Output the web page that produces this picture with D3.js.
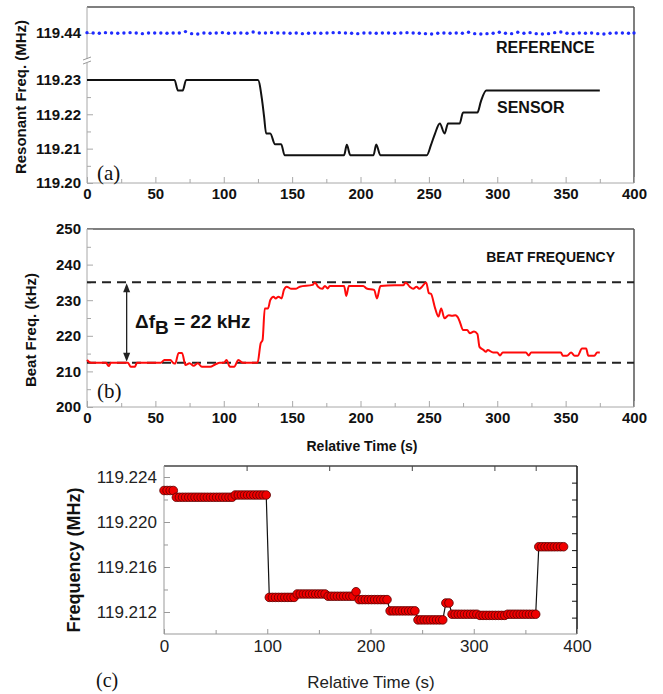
<!DOCTYPE html>
<meta charset="utf-8">
<style>
body { margin: 0; background: #fff; }
text { font-family: Arial, "Liberation Sans", sans-serif; }
.serif { font-family: "Times New Roman", "Liberation Serif", serif; }
</style>
<body>
<script src="https://d3js.org/d3.v7.min.js"></script>
<script>

// ---- data ----
var timeTicks = [0, 50, 100, 150, 200, 250, 300, 350, 400];
var timeTicksC = [0, 100, 200, 300, 400];

// (a) reference resonator (blue dots) and sensor (black line)
var refT = [0,4.5,9,13.5,18,22.5,27,31.5,36,40.5,45,49.5,54,58.5,63,67.5,72,76.5,81,85.5,90,94.5,99,103.5,108,112.5,117,121.5,126,130.5,135,139.5,144,148.5,153,157.5,162,166.5,171,175.5,180,184.5,189,193.5,198,202.5,207,211.5,216,220.5,225,229.5,234,238.5,243,247.5,252,256.5,261,265.5,270,274.5,279,283.5,288,292.5,297,301.5,306,310.5,315,319.5,324,328.5,333,337.5,342,346.5,351,355.5,360,364.5,369,373.5,378,382.5,387,391.5,396,400];
var refF = [119.4401,119.4400,119.4399,119.4401,119.4400,119.4399,119.4400,119.4401,119.4400,119.4398,119.4400,119.4400,119.4400,119.4399,119.4400,119.4400,119.4404,119.4398,119.4397,119.4400,119.4399,119.4400,119.4401,119.4399,119.4400,119.4400,119.4399,119.4403,119.4400,119.4400,119.4401,119.4400,119.4400,119.4399,119.4400,119.4398,119.4399,119.4400,119.4399,119.4400,119.4401,119.4401,119.4400,119.4399,119.4398,119.4400,119.4400,119.4399,119.4400,119.4400,119.4399,119.4400,119.4401,119.4400,119.4399,119.4398,119.4397,119.4399,119.4400,119.4399,119.4400,119.4399,119.4402,119.4398,119.4397,119.4398,119.4399,119.4402,119.4399,119.4398,119.4402,119.4399,119.4401,119.4398,119.4397,119.4398,119.4401,119.4403,119.4399,119.4398,119.4400,119.4399,119.4400,119.4398,119.4397,119.4399,119.4400,119.4400,119.4399,119.4400];
var sensorT = [0,64,66.5,70,72.5,125,128,129.5,131,134,137.5,142,144.5,188,190,192.5,209.5,211.5,214.5,248.5,251.5,254.5,258,261.5,264,272.5,275,285.5,288,292,375];
var sensorF = [119.2300,119.2300,119.2269,119.2269,119.2300,119.2300,119.2242,119.2193,119.2144,119.2144,119.2113,119.2113,119.2081,119.2081,119.2111,119.2081,119.2081,119.2112,119.2081,119.2081,119.2110,119.2144,119.2173,119.2144,119.2173,119.2173,119.2205,119.2205,119.2237,119.2269,119.2269];
var ticksLow = [119.20, 119.21, 119.22, 119.23];
var ticksHigh = [119.44];

// (b) beat frequency
var beatT = [0,3,14,15.8,17.5,30,32,35,36.5,54,56.6,61,63,64.5,67,69.5,72,75,78,81,84,90,94,97,100,102,104.5,107.6,110.7,114,124.7,127,128.4,130,132.4,134,136.4,138,140,142.3,144,146,149.4,152.5,155.6,165,166.6,169,172,174,176,177.5,188,189.6,191.5,202,204.5,210,212,214.6,225,231.4,233,236,238.5,241,243,245,248,250,251.5,254.6,257,259,261.4,264.5,267,269.4,271.6,273,275,278,280,283,285.5,287,290,291.7,293,297,300,302,304,321,323,324.8,346.5,348,351,354,356.6,358.8,362,365,366.6,371,373,375];
var beatF = [213.2,212.4,212.4,211.5,212.4,212.4,211.3,211.3,212.4,212.4,213.2,213.2,212.4,212.2,215.2,215.2,211.8,212.3,211.6,212.3,211.3,211.3,212.0,212.4,212.4,213.2,211.3,211.3,213.2,212.4,212.4,217.9,218.8,227.7,227.7,230,231,230.5,231,230.5,232.9,233.8,233.2,233.2,233.8,234.3,235,233.8,233.2,234,233.3,234,234,231.2,234,234,233.3,232.9,230.5,234,234.2,234.2,235,233.8,233.2,233.8,233.2,233.8,235,232,231.8,227.7,225.4,227.7,224.9,225.8,225.6,225.8,224.9,223.5,221.6,221.6,220.7,221.2,220.5,216.9,216,215.5,216,215.3,215.3,214.5,215.3,215.3,214.5,215.3,215.3,214.4,214.4,215.3,214.4,214.4,216.4,216.4,214.4,214.4,215.3,215.3];
var beatLevels = [235.06, 212.4];
var beatTicks = [200, 210, 220, 230, 240, 250];
var arrowT = 29;

// (c) frequency vs time
var timeC = [0,3,6,9,12,15,18,21,24,27,30,33,36,39,42,45,48,51,54,57,60,63,66,69,72,75,78,81,84,87,90,93,96,99,102,105,108,111,114,117,120,123,126,129,132,135,138,141,144,147,150,153,156,159,162,165,168,171,174,177,180,183,186,189,192,195,198,201,204,207,210,213,216,219,222,225,228,231,234,237,240,243,246,249,252,255,258,261,264,267,270,273,276,279,282,285,288,291,294,297,300,303,306,309,312,315,318,321,324,327,330,333,336,339,342,345,348,351,354,357,360,363,366,369,372,375,378,381,384,387];
var freqC = [119.2228,119.2228,119.2228,119.2228,
  119.2222,119.2222,119.2222,119.2222,119.2222,119.2222,119.2222,119.2222,119.2222,119.2222,119.2222,119.2222,119.2222,119.2222,119.2222,119.2222,119.2222,119.2222,119.2222,
  119.2224,119.2224,119.2224,119.2224,119.2224,119.2224,119.2224,119.2224,119.2224,119.2224,119.2224,
  119.2133,119.2133,119.2133,119.2133,119.2133,119.2133,119.2133,119.2133,119.2133,
  119.2136,119.2136,119.2136,119.2136,119.2136,119.2136,119.2136,119.2136,119.2136,119.2136,
  119.2134,119.2134,119.2134,119.2134,119.2134,119.2134,119.2134,119.2134,119.2134,
  119.2138,
  119.2131,119.2131,119.2131,119.2131,119.2131,119.2131,119.2131,119.2131,119.2131,119.2131,
  119.2121,119.2121,119.2121,119.2121,119.2121,119.2121,119.2121,119.2121,119.2121,
  119.2113,119.2113,119.2113,119.2113,119.2113,119.2113,119.2113,119.2113,119.2113,
  119.2128,119.2128,
  119.2118,119.2118,119.2118,119.2118,119.2118,119.2118,119.2118,119.2118,119.2118,
  119.2117,119.2117,119.2117,119.2117,119.2117,119.2117,119.2117,119.2117,119.2117,
  119.2118,119.2118,119.2118,119.2118,119.2118,119.2118,119.2118,119.2118,119.2118,119.2118,
  119.2178,119.2178,119.2178,119.2178,119.2178,119.2178,119.2178,119.2178,119.2178];
var freqTicksC = [119.212, 119.216, 119.220, 119.224];
var freqMinorC = [119.214, 119.218, 119.222];
var rightTicksC = [119.2115, 119.2130, 119.2145, 119.2160, 119.2175, 119.2190, 119.2205, 119.2220, 119.2235];
var topTicksC = [80, 160, 240, 320, 360];

var svg = d3.select("body").append("svg")
    .attr("width", 663)
    .attr("height", 694);

svg.append("rect").attr("width", 663).attr("height", 694).attr("fill", "#fff");

var lightAxis = "#a8a8a8", darkFrame = "#555";
var fontSans = "Arial, 'Liberation Sans', sans-serif";

// drop the d3 domain path, recolour the tick lines
function styleAxis(g, col) {
  g.select(".domain").remove();
  g.selectAll(".tick line").attr("stroke", col);
}

// ================= panel (a) =================
var xa = d3.scaleLinear().domain([0, 400]).range([87, 634]);
var yLow = d3.scaleLinear().domain([119.20, 119.2355]).range([183, 61]);
var yHigh = d3.scaleLinear().domain([119.4318, 119.4476]).range([61, 7]);

var pa = svg.append("g");
// frame
pa.append("line").attr("x1", 87).attr("x2", 634).attr("y1", 7).attr("y2", 7).attr("stroke", darkFrame).attr("stroke-width", 1.5);
pa.append("line").attr("x1", 634).attr("x2", 634).attr("y1", 7).attr("y2", 183).attr("stroke", darkFrame).attr("stroke-width", 1.5);
pa.append("line").attr("x1", 87).attr("x2", 634).attr("y1", 183).attr("y2", 183).attr("stroke", lightAxis);
pa.append("line").attr("x1", 87).attr("x2", 87).attr("y1", 7).attr("y2", 183).attr("stroke", lightAxis);

// x ticks
pa.append("g").attr("transform", "translate(0,183)")
  .call(d3.axisBottom(xa).tickValues(d3.range(25, 400, 50)).tickSize(-4).tickFormat(""))
  .call(styleAxis, lightAxis);
pa.append("g").attr("transform", "translate(0,183)")
  .call(d3.axisBottom(xa).tickValues(timeTicks).tickSize(-6).tickPadding(5).tickFormat(d3.format("d")))
  .call(styleAxis, lightAxis)
  .selectAll("text").attr("font-size", 15).attr("font-weight", "bold").attr("fill", "#111")
  .attr("font-family", fontSans);

// y ticks, lower part
pa.append("g").attr("transform", "translate(87,0)")
  .call(d3.axisLeft(yLow).tickValues([119.205, 119.215, 119.225]).tickSize(-4).tickFormat(""))
  .call(styleAxis, lightAxis);
pa.append("g").attr("transform", "translate(87,0)")
  .call(d3.axisLeft(yLow).tickValues(ticksLow).tickSize(-6).tickPadding(6).tickFormat(d3.format(".2f")))
  .call(styleAxis, lightAxis)
  .selectAll("text").attr("font-size", 15).attr("font-weight", "bold").attr("fill", "#111")
  .attr("font-family", fontSans);
// y ticks, upper part
pa.append("g").attr("transform", "translate(87,0)")
  .call(d3.axisLeft(yHigh).tickValues(ticksHigh).tickSize(-6).tickPadding(6).tickFormat(d3.format(".2f")))
  .call(styleAxis, lightAxis)
  .selectAll("text").attr("font-size", 15).attr("font-weight", "bold").attr("fill", "#111")
  .attr("font-family", fontSans);

// axis break marks
pa.append("rect").attr("x", 83).attr("y", 59).attr("width", 8).attr("height", 4).attr("fill", "#fff");
[58.5, 62.5].forEach(function(yy) {
  pa.append("line").attr("x1", 83).attr("x2", 91).attr("y1", yy + 1.5).attr("y2", yy - 1.5)
    .attr("stroke", "#999").attr("stroke-width", 1);
});

// reference dots
pa.selectAll(".ref").data(refT).enter().append("circle")
  .attr("class", "ref")
  .attr("cx", function(d) { return xa(d); })
  .attr("cy", function(d, i) { return yHigh(refF[i]); })
  .attr("r", 1.7)
  .attr("fill", "#1f2bff");

// sensor line
var lineA = d3.line()
  .x(function(d) { return xa(d); })
  .y(function(d, i) { return yLow(sensorF[i]); })
  .curve(d3.curveMonotoneX);
pa.append("path").datum(sensorT).attr("d", lineA)
  .attr("fill", "none").attr("stroke", "#111").attr("stroke-width", 2);

pa.append("text").attr("x", 496).attr("y", 53).attr("font-size", 16).attr("font-weight", "bold").attr("fill", "#111").text("REFERENCE");
pa.append("text").attr("x", 497).attr("y", 113).attr("font-size", 16).attr("font-weight", "bold").attr("fill", "#111").text("SENSOR");
pa.append("text").attr("class", "serif").attr("x", 97).attr("y", 180).attr("font-size", 21).attr("fill", "#111").text("(a)");
pa.append("text").attr("transform", "translate(26,97) rotate(-90)").attr("text-anchor", "middle")
  .attr("font-size", 15).attr("font-weight", "bold").attr("fill", "#111").text("Resonant Freq. (MHz)");

// ================= panel (b) =================
var xb = d3.scaleLinear().domain([0, 400]).range([87, 634]);
var yb = d3.scaleLinear().domain([200, 250]).range([407, 229]);

var pb = svg.append("g");
pb.append("line").attr("x1", 87).attr("x2", 634).attr("y1", 229).attr("y2", 229).attr("stroke", darkFrame).attr("stroke-width", 1.5);
pb.append("line").attr("x1", 634).attr("x2", 634).attr("y1", 229).attr("y2", 407).attr("stroke", darkFrame).attr("stroke-width", 1.5);
pb.append("line").attr("x1", 87).attr("x2", 634).attr("y1", 407).attr("y2", 407).attr("stroke", lightAxis);
pb.append("line").attr("x1", 87).attr("x2", 87).attr("y1", 229).attr("y2", 407).attr("stroke", lightAxis);

pb.append("g").attr("transform", "translate(0,407)")
  .call(d3.axisBottom(xb).tickValues(d3.range(25, 400, 50)).tickSize(-4).tickFormat(""))
  .call(styleAxis, lightAxis);
pb.append("g").attr("transform", "translate(0,407)")
  .call(d3.axisBottom(xb).tickValues(timeTicks).tickSize(-6).tickPadding(5).tickFormat(d3.format("d")))
  .call(styleAxis, lightAxis)
  .selectAll("text").attr("font-size", 15).attr("font-weight", "bold").attr("fill", "#111")
  .attr("font-family", fontSans);
pb.append("g").attr("transform", "translate(87,0)")
  .call(d3.axisLeft(yb).tickValues(d3.range(205, 250, 10)).tickSize(-4).tickFormat(""))
  .call(styleAxis, lightAxis);
pb.append("g").attr("transform", "translate(87,0)")
  .call(d3.axisLeft(yb).tickValues(beatTicks).tickSize(-6).tickPadding(6).tickFormat(d3.format("d")))
  .call(styleAxis, lightAxis)
  .selectAll("text").attr("font-size", 15).attr("font-weight", "bold").attr("fill", "#111")
  .attr("font-family", fontSans);

// dashed levels
pb.selectAll(".lvl").data(beatLevels).enter().append("line")
  .attr("class", "lvl")
  .attr("x1", xb(0)).attr("x2", xb(400))
  .attr("y1", function(d) { return yb(d); }).attr("y2", function(d) { return yb(d); })
  .attr("stroke", "#222").attr("stroke-width", 2).attr("stroke-dasharray", "9,6");

// double arrow between the two levels
var ax = xb(arrowT), ayTop = yb(beatLevels[0]), ayBot = yb(beatLevels[1]);
pb.append("line").attr("x1", ax).attr("x2", ax).attr("y1", ayTop + 6).attr("y2", ayBot - 6)
  .attr("stroke", "#222").attr("stroke-width", 1.3);
pb.append("path").attr("d", "M" + ax + "," + (ayTop + 1) + " l-3.5,9 l7,0 z").attr("fill", "#222");
pb.append("path").attr("d", "M" + ax + "," + (ayBot - 1) + " l-3.5,-9 l7,0 z").attr("fill", "#222");

var lineB = d3.line()
  .x(function(d) { return xb(d); })
  .y(function(d, i) { return yb(beatF[i]); })
  .curve(d3.curveMonotoneX);
pb.append("path").datum(beatT).attr("d", lineB)
  .attr("fill", "none").attr("stroke", "#ff0a0a").attr("stroke-width", 2);

var dtxt = pb.append("text").attr("x", 135).attr("y", 328).attr("font-size", 19).attr("font-weight", "bold").attr("fill", "#111");
dtxt.append("tspan").text("\u0394f");
dtxt.append("tspan").attr("dy", 6).text("B");
dtxt.append("tspan").attr("dy", -6).text(" = 22 kHz");

pb.append("text").attr("x", 615).attr("y", 262).attr("text-anchor", "end").attr("font-size", 14).attr("font-weight", "bold").attr("fill", "#111").text("BEAT FREQUENCY");
pb.append("text").attr("class", "serif").attr("x", 97).attr("y", 398).attr("font-size", 21).attr("fill", "#111").text("(b)");
pb.append("text").attr("transform", "translate(36,330) rotate(-90)").attr("text-anchor", "middle")
  .attr("font-size", 15).attr("font-weight", "bold").attr("fill", "#111").text("Beat Freq. (kHz)");
pb.append("text").attr("x", 362).attr("y", 451).attr("text-anchor", "middle")
  .attr("font-size", 14).attr("font-weight", "bold").attr("fill", "#111").text("Relative Time (s)");

// ================= panel (c) =================
var xc = d3.scaleLinear().domain([0, 400]).range([164, 577]);
var yc = d3.scaleLinear().domain([119.210044, 119.224978]).range([634, 466]);

var pc = svg.append("g");
pc.append("line").attr("x1", 164).attr("x2", 577).attr("y1", 466).attr("y2", 466).attr("stroke", "#444").attr("stroke-width", 1.3);
pc.append("line").attr("x1", 577).attr("x2", 577).attr("y1", 466).attr("y2", 634).attr("stroke", "#111").attr("stroke-width", 1.5);
pc.append("line").attr("x1", 164).attr("x2", 577).attr("y1", 634).attr("y2", 634).attr("stroke", "#999");
pc.append("line").attr("x1", 164).attr("x2", 164).attr("y1", 466).attr("y2", 634).attr("stroke", "#999");

pc.append("g").attr("transform", "translate(0,634)")
  .call(d3.axisBottom(xc).tickValues(d3.range(50, 400, 100)).tickSize(-4).tickFormat(""))
  .call(styleAxis, "#999");
pc.append("g").attr("transform", "translate(0,634)")
  .call(d3.axisBottom(xc).tickValues(timeTicksC).tickSize(-5).tickPadding(6).tickFormat(d3.format("d")))
  .call(styleAxis, "#999")
  .selectAll("text").attr("font-size", 17).attr("fill", "#222")
  .attr("font-family", fontSans);
pc.append("g").attr("transform", "translate(0,466)")
  .call(d3.axisTop(xc).tickValues(topTicksC).tickSize(-5).tickFormat(""))
  .call(styleAxis, "#444");
pc.append("g").attr("transform", "translate(164,0)")
  .call(d3.axisLeft(yc).tickValues(freqMinorC).tickSize(-4).tickFormat(""))
  .call(styleAxis, "#999");
pc.append("g").attr("transform", "translate(164,0)")
  .call(d3.axisLeft(yc).tickValues(freqTicksC).tickSize(-6).tickPadding(7).tickFormat(d3.format(".3f")))
  .call(styleAxis, "#999")
  .selectAll("text").attr("font-size", 17).attr("fill", "#222")
  .attr("font-family", fontSans);
pc.append("g").attr("transform", "translate(577,0)")
  .call(d3.axisRight(yc).tickValues(rightTicksC).tickSize(-5).tickFormat(""))
  .call(styleAxis, "#111");

var lineC = d3.line()
  .x(function(d) { return xc(d); })
  .y(function(d, i) { return yc(freqC[i]); });
pc.append("path").datum(timeC).attr("d", lineC)
  .attr("fill", "none").attr("stroke", "#111").attr("stroke-width", 1.2);
pc.selectAll(".pt").data(timeC).enter().append("circle")
  .attr("class", "pt")
  .attr("cx", function(d) { return xc(d); })
  .attr("cy", function(d, i) { return yc(freqC[i]); })
  .attr("r", 4.3)
  .attr("fill", "#f00000")
  .attr("stroke", "#5a0000")
  .attr("stroke-width", 0.8);

pc.append("text").attr("transform", "translate(80,560) rotate(-90)").attr("text-anchor", "middle")
  .attr("font-size", 18).attr("font-weight", "bold").attr("fill", "#111").text("Frequency (MHz)");
pc.append("text").attr("x", 371).attr("y", 688).attr("text-anchor", "middle")
  .attr("font-size", 17).attr("fill", "#222").text("Relative Time (s)");
pc.append("text").attr("class", "serif").attr("x", 96).attr("y", 687).attr("font-size", 20).attr("fill", "#111").text("(c)");

</script>
</body>
